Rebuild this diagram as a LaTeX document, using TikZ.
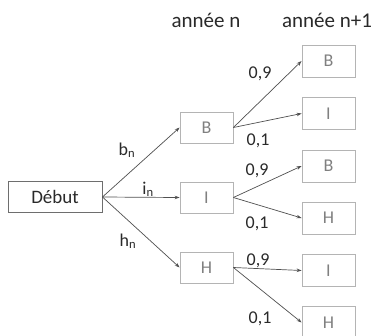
\documentclass[tikz,border=0pt]{standalone}
\usepackage{fontspec}
\setmainfont{Carlito}
\usetikzlibrary{arrows.meta}

\definecolor{boxline}{HTML}{B4B4B4}
\definecolor{boxtext}{HTML}{808080}
\definecolor{startline}{HTML}{6E6E6E}
\definecolor{arrowcol}{HTML}{505050}
\definecolor{labeltext}{HTML}{2A2A2A}

\tikzset{
  x=1pt, y=-1pt,
  state/.style={draw=boxline, line width=0.8pt, minimum width=53pt,
    minimum height=31pt, inner sep=0pt, text=boxtext,
    font=\fontsize{18}{20}\selectfont},
  startbox/.style={draw=startline, line width=0.9pt, minimum width=94pt,
    minimum height=31pt, inner sep=0pt, text=labeltext,
    font=\fontsize{19}{21}\selectfont},
  header/.style={anchor=base, inner sep=0pt, text=labeltext,
    font=\fontsize{21}{23}\selectfont},
  prob/.style={anchor=base, inner sep=0pt, text=labeltext,
    font=\fontsize{18}{20}\selectfont},
  branch/.style={draw=arrowcol, line width=0.7pt,
    -{Stealth[length=5pt,width=3.5pt]}},
}

\begin{document}
\begin{tikzpicture}
  \useasboundingbox[fill=white] (0,0) rectangle (372,335);

  % column headings
  \node[header] (hn)  at (206,27) {année n};
  \node[header] (hn1) at (327,27) {année n+1};

  % root
  \node[startbox] (start) at (55,197) {Début};

  % year n
  \node[state] (b)  at (206.5,127.5) {B};
  \node[state] (i)  at (206.5,197.5) {I};
  \node[state] (h)  at (206.5,267.5) {H};

  % year n+1
  \node[state, minimum height=32pt] (bb) at (328.5,61)    {B};
  \node[state, minimum height=32pt] (bi) at (328.5,113.5) {I};
  \node[state, minimum height=32pt] (ib) at (328.5,166)   {B};
  \node[state, minimum height=32pt] (ih) at (328.5,218)   {H};
  \node[state, minimum height=32pt] (hi) at (328.5,270.5) {I};
  \node[state, minimum height=32pt] (hh) at (328.5,322.5) {H};

  % first level branches
  \draw[branch] (start.east) -- (b.west);
  \draw[branch] (start.east) -- (i.west);
  \draw[branch] (start.east) -- (h.west);

  % second level branches
  \draw[branch] (b.east) -- (bb.west);
  \draw[branch] (b.east) -- (bi.west);
  \draw[branch] (i.east) -- (ib.west);
  \draw[branch] (i.east) -- (ih.west);
  \draw[branch] (h.east) -- (hi.west);
  \draw[branch] (h.east) -- (hh.west);

  % branch probabilities
  \node[prob] (pb) at (127,155) {b\textsubscript{n}};
  \node[prob] (pi) at (148,194) {i\textsubscript{n}};
  \node[prob] (ph) at (128,246) {h\textsubscript{n}};

  \node[prob] (pbb) at (260,78)  {0,9};
  \node[prob] (pbi) at (258,145) {0,1};
  \node[prob] (pib) at (257,175) {0,9};
  \node[prob] (pih) at (257,228) {0,1};
  \node[prob] (phi) at (258,265) {0,9};
  \node[prob] (phh) at (260,323) {0,1};
\end{tikzpicture}
\end{document}
